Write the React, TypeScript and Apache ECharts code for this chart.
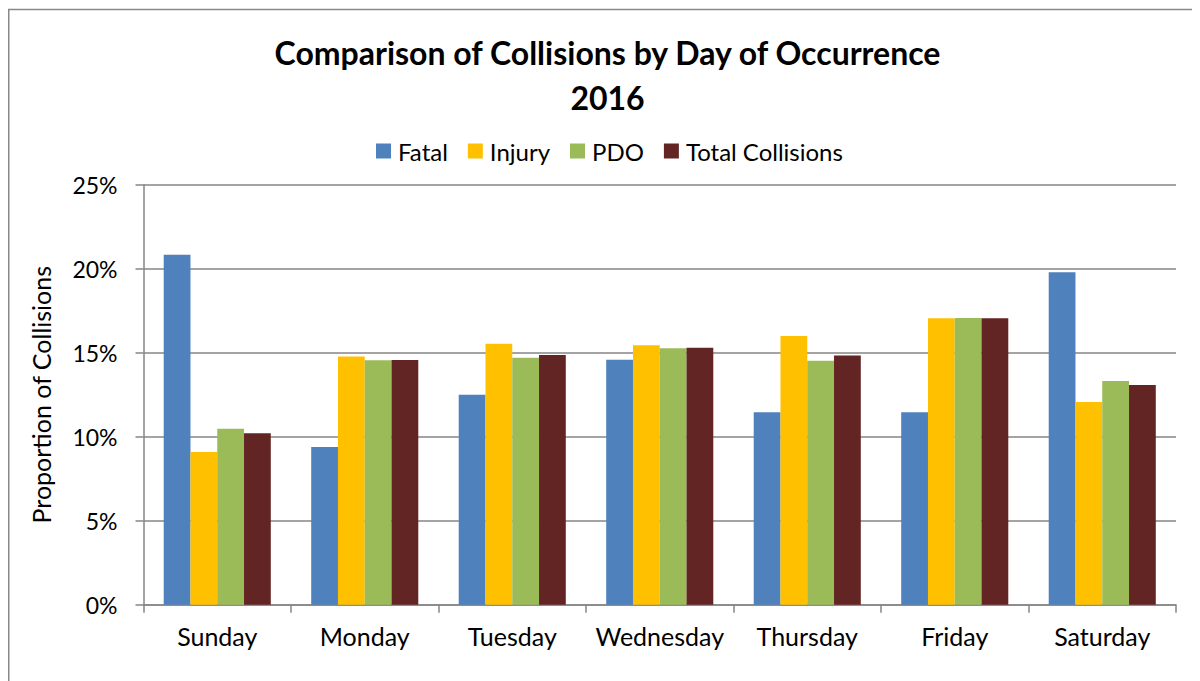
import React, { useEffect, useRef } from "react";
import * as echarts from "echarts";

const days = ["Sunday", "Monday", "Tuesday", "Wednesday", "Thursday", "Friday", "Saturday"];
const seriesNames = ["Fatal", "Injury", "PDO", "Total Collisions"];
const fatal = [20.83, 9.38, 12.5, 14.58, 11.46, 11.46, 19.79];
const injury = [9.09, 14.78, 15.54, 15.44, 15.99, 17.05, 12.07];
const pdo = [10.48, 14.55, 14.7, 15.26, 14.52, 17.07, 13.32];
const totalCollisions = [10.2, 14.57, 14.86, 15.3, 14.84, 17.05, 13.08];
const colors = ["#4F81BD", "#FFC000", "#9BBB59", "#632523"];
const yTicks = [0, 5, 10, 15, 20, 25];

const FONT = "Lato, 'Noto Sans', sans-serif";

export default function App() {
  const ref = useRef<HTMLDivElement>(null);
  useEffect(() => {
    if (!ref.current) return;
    const chart = echarts.init(ref.current, undefined, { renderer: "svg" });
    const values = [fatal, injury, pdo, totalCollisions];
    chart.setOption({
      animation: false,
      textStyle: { fontFamily: FONT, color: "#000" },
      graphic: [
        {
          type: "rect",
          silent: true,
          shape: { x: 0.75, y: 1.5, width: 1400, height: 900 },
          style: { fill: "none", stroke: "#888888", lineWidth: 1.5 },
        },
        {
          type: "text",
          x: 599.5,
          y: 44,
          style: {
            text: "Comparison of Collisions by Day of Occurrence",
            fontFamily: FONT,
            fontWeight: "bold",
            fontSize: 32,
            fill: "#000",
            textAlign: "center",
            textVerticalAlign: "middle",
          },
        },
        {
          type: "text",
          x: 599.5,
          y: 89,
          style: {
            text: "2016",
            fontFamily: FONT,
            fontWeight: "bold",
            fontSize: 32,
            fill: "#000",
            textAlign: "center",
            textVerticalAlign: "middle",
          },
        },
      ],
      legend: {
        data: seriesNames,
        left: 363,
        top: 126,
        icon: "rect",
        itemWidth: 15,
        itemHeight: 15,
        itemGap: 20,
        textStyle: { fontFamily: FONT, fontSize: 24, color: "#000", padding: [0, 0, 0, 2] },
      },
      grid: { left: 135.5, right: 24, top: 176.7, bottom: 76.3, containLabel: false },
      xAxis: {
        type: "category",
        data: days,
        axisLine: { lineStyle: { color: "#868686", width: 1.5 } },
        axisTick: { show: true, interval: 0, length: 8, lineStyle: { color: "#868686", width: 1.5 } },
        axisLabel: { interval: 0, fontFamily: FONT, fontSize: 25, color: "#000", margin: 19 },
      },
      yAxis: {
        type: "value",
        min: 0,
        max: 25,
        interval: 5,
        name: "Proportion of Collisions",
        nameLocation: "middle",
        nameGap: 90,
        nameTextStyle: { fontFamily: FONT, fontSize: 25, color: "#000" },
        axisLine: { show: true, lineStyle: { color: "#868686", width: 1.5 } },
        axisTick: { show: true, length: 8, lineStyle: { color: "#868686", width: 1.5 } },
        splitLine: { lineStyle: { color: "#868686", width: 1.5 } },
        axisLabel: {
          fontFamily: FONT,
          fontSize: 23,
          color: "#000",
          margin: 26,
          formatter: (v: number) => (yTicks.includes(v) ? v + "%" : ""),
        },
      },
      series: seriesNames.map((name, i) => ({
        name,
        type: "bar",
        data: values[i],
        barGap: "0%",
        barCategoryGap: "27.4%",
        itemStyle: { color: colors[i] },
      })),
    });
    return () => chart.dispose();
  }, []);
  return <div ref={ref} style={{ width: 1192, height: 673 }} />;
}
